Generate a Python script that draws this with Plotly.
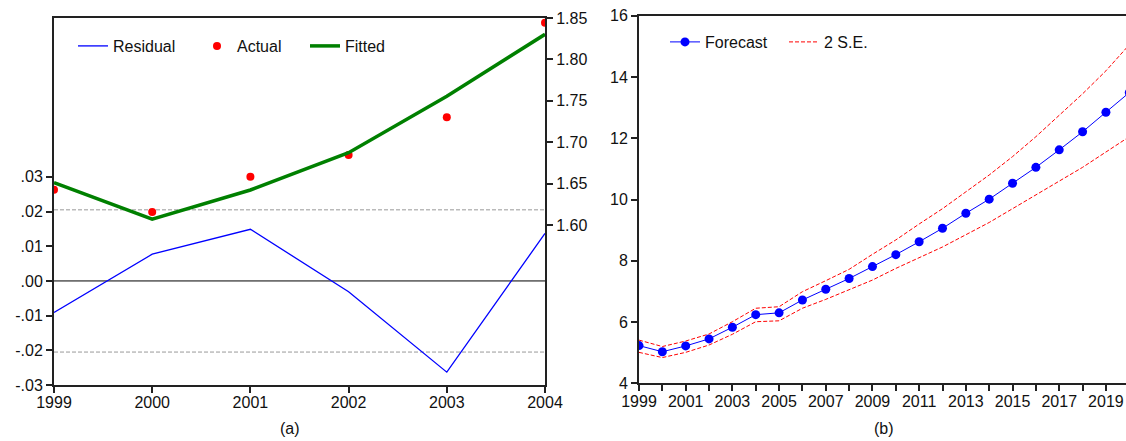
import plotly.graph_objects as go

W, H = 1126, 441

# ---------- Data: panel (a) ----------
years_a = [1999, 2000, 2001, 2002, 2003, 2004]
residual = [-0.0091, 0.0077, 0.0149, -0.0031, -0.0263, 0.0137]
actual = [1.6426, 1.6157, 1.6583, 1.6845, 1.7300, 1.8443]
fitted = [1.6511, 1.6072, 1.6423, 1.6873, 1.7555, 1.8303]
se_band = 0.0205
resid_ticks = [-0.03, -0.02, -0.01, 0.0, 0.01, 0.02, 0.03]
resid_ticktext = ["-.03", "-.02", "-.01", ".00", ".01", ".02", ".03"]
level_ticks = [1.60, 1.65, 1.70, 1.75, 1.80, 1.85]
level_ticktext = ["1.60", "1.65", "1.70", "1.75", "1.80", "1.85"]

# ---------- Data: panel (b) ----------
years_b = list(range(1999, 2021))
forecast = [5.23, 5.03, 5.22, 5.45, 5.83, 6.24, 6.30, 6.72, 7.07, 7.42, 7.81,
            8.20, 8.62, 9.06, 9.55, 10.01, 10.53, 11.05, 11.62, 12.21, 12.85, 13.49]
upper = [5.41, 5.20, 5.38, 5.61, 6.01, 6.45, 6.50, 6.99, 7.35, 7.72, 8.21,
         8.68, 9.20, 9.70, 10.25, 10.80, 11.40, 12.05, 12.75, 13.45, 14.20, 15.05]
lower = [5.01, 4.84, 5.01, 5.25, 5.60, 6.01, 6.04, 6.45, 6.74, 7.05, 7.37,
         7.75, 8.10, 8.45, 8.85, 9.25, 9.70, 10.15, 10.60, 11.05, 11.55, 12.05]
b_yticks = [4, 6, 8, 10, 12, 14, 16]
b_xticktext = [str(y) if y % 2 == 1 else "" for y in years_b]

FONT = "Liberation Sans, Arial, sans-serif"
AX = "#222222"


def px(x):
    return x / W


def py(y):
    return 1 - y / H


fig = go.Figure()

# Panel (a)
fig.add_trace(go.Scatter(x=years_a, y=residual, mode="lines", name="Residual",
                         line=dict(color="#0000FF", width=1.3),
                         xaxis="x", yaxis="y", legend="legend"))
fig.add_trace(go.Scatter(x=years_a, y=actual, mode="markers", name="Actual",
                         marker=dict(color="#FF0000", size=8),
                         xaxis="x", yaxis="y2", legend="legend2"))
fig.add_trace(go.Scatter(x=years_a, y=fitted, mode="lines", name="Fitted",
                         line=dict(color="#008000", width=3.5),
                         xaxis="x", yaxis="y2", legend="legend3"))

# Panel (b)
fig.add_trace(go.Scatter(x=years_b, y=forecast, mode="lines+markers", name="Forecast",
                         line=dict(color="#0000FF", width=1),
                         marker=dict(color="#0000FF", size=9),
                         xaxis="x2", yaxis="y3", legend="legend4"))
fig.add_trace(go.Scatter(x=years_b, y=upper, mode="lines", name="2 S.E.",
                         line=dict(color="#FF0000", width=1, dash="4px,2px"),
                         xaxis="x2", yaxis="y3", legend="legend5"))
fig.add_trace(go.Scatter(x=years_b, y=lower, mode="lines", name="2 S.E.",
                         line=dict(color="#FF0000", width=1, dash="4px,2px"),
                         xaxis="x2", yaxis="y3", showlegend=False))

# Reference lines in panel (a)
fig.add_shape(type="line", xref="x domain", yref="y", x0=0, x1=1, y0=0, y1=0,
              line=dict(color="#000000", width=1), layer="below")
for v in (se_band, -se_band):
    fig.add_shape(type="line", xref="x domain", yref="y", x0=0, x1=1, y0=v, y1=v,
                  line=dict(color="#999999", width=1, dash="4px,2px"), layer="below")

tickfont = dict(family=FONT, size=16, color="#111111")
common_ax = dict(ticks="outside", ticklen=6, tickwidth=1.5, tickcolor=AX,
                 showline=True, linecolor=AX, linewidth=2, showgrid=False,
                 zeroline=False, tickfont=tickfont, automargin=False)

fig.update_layout(
    width=W, height=H,
    margin=dict(l=0, r=0, t=0, b=0, autoexpand=False),
    paper_bgcolor="white", plot_bgcolor="white",
    font=dict(family=FONT, size=16, color="#111111"),
    xaxis=dict(domain=[px(54), px(545)], range=[1999, 2004],
               tickvals=years_a, mirror=True, anchor="y",
               ticklabelstandoff=-4, **common_ax),
    yaxis=dict(domain=[py(385), py(18)], range=[-0.03, 0.0758],
               tickvals=resid_ticks, ticktext=resid_ticktext, anchor="x",
               **common_ax),
    yaxis2=dict(domain=[py(385), py(18)], range=[1.4068, 1.85],
                overlaying="y", side="right", anchor="x",
                tickvals=level_ticks, ticktext=level_ticktext, **common_ax),
    xaxis2=dict(domain=[px(639), 1.0], range=[1999, 2019.86],
                tickvals=years_b, ticktext=b_xticktext, mirror=True,
                anchor="y3", ticklabelstandoff=-4, **common_ax),
    yaxis3=dict(domain=[py(383.3), py(15.7)], range=[4, 16],
                tickvals=b_yticks, anchor="x2", **common_ax),
    showlegend=True,
)

leg_common = dict(orientation="h", xanchor="left", yanchor="middle",
                  bgcolor="rgba(0,0,0,0)", borderwidth=0,
                  font=dict(family=FONT, size=16, color="#111111"))
fig.update_layout(
    legend=dict(x=px(73), y=py(46), **leg_common),
    legend2=dict(x=px(197), y=py(46), **leg_common),
    legend3=dict(x=px(305), y=py(46), **leg_common),
    legend4=dict(x=px(665), y=py(42), **leg_common),
    legend5=dict(x=px(784), y=py(42), **leg_common),
)

fig.add_annotation(text="(a)", x=px(290), y=py(428), xref="paper", yref="paper",
                   xanchor="center", yanchor="middle", showarrow=False,
                   font=dict(family=FONT, size=16, color="#111111"))
fig.add_annotation(text="(b)", x=px(884), y=py(428), xref="paper", yref="paper",
                   xanchor="center", yanchor="middle", showarrow=False,
                   font=dict(family=FONT, size=16, color="#111111"))

fig.write_html(
    "out.html",
    config={"displayModeBar": False},
    post_script="document.body.style.margin='0';document.body.style.overflow='hidden';",
)
